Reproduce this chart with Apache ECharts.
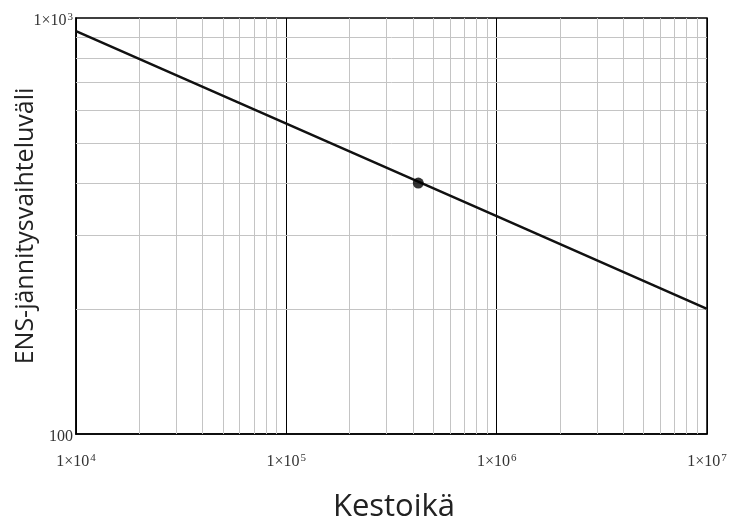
<!DOCTYPE html>
<html>
<head>
<meta charset="utf-8">
<script src="https://cdn.jsdelivr.net/npm/echarts@6/dist/echarts.min.js"></script>
<style>html,body{margin:0;padding:0;background:#fff}#c{width:734px;height:529px}</style>
</head>
<body>
<div id="c"></div>
<script>
var lifeValues = [1e4, 1e5, 1e6, 1e7];
var rangeValues = [930, 557, 334, 200];
var pointLife = [424000];
var pointRange = [401];
var xMinorGrid = [2e4,3e4,4e4,5e4,6e4,7e4,8e4,9e4,2e5,3e5,4e5,5e5,6e5,7e5,8e5,9e5,2e6,3e6,4e6,5e6,6e6,7e6,8e6,9e6];
var yMinorGrid = [200,300,400,500,600,700,800,900];
var xName = 'Kestoikä';
var yName = 'ENS-jännitysvaihteluväli';

var chart = echarts.init(document.getElementById('c'));
function sci(v){
  var e = Math.round(Math.log10(v));
  return '{b|1×10}{s|' + e + '}';
}
var serif = 'Liberation Serif';
var gray = '#c4c4c4';
var minorLines = xMinorGrid.map(function(v){return {xAxis: v};})
  .concat(yMinorGrid.map(function(v){return {yAxis: v};}));
var rich = {
  b: {fontFamily: serif, fontSize: 16, color: '#333', lineHeight: 18},
  s: {fontFamily: serif, fontSize: 11, color: '#333', verticalAlign: 'top', lineHeight: 12, padding: [0,0,12,1]}
};

chart.setOption({
  animation: false,
  grid: {left: 76, right: 27, top: 18, bottom: 95, outerBoundsMode: 'none', containLabel: false,
    show: true, borderColor: '#000', borderWidth: 1.5, backgroundColor: 'transparent'},
  xAxis: {
    type: 'log', logBase: 10, min: 1e4, max: 1e7,
    name: xName, nameLocation: 'middle', nameGap: 58, nameMoveOverlap: false,
    nameTextStyle: {fontFamily: 'Open Sans', fontSize: 31, color: '#222', padding: [0,0,0,5]},
    axisLine: {show: true, lineStyle: {color: '#000', width: 1.5}},
    axisTick: {show: false},
    splitLine: {show: true, lineStyle: {color: '#000', width: 1}},
    minorTick: {show: false}, minorSplitLine: {show: false},
    axisLabel: {
      margin: 19, fontSize: 16, fontFamily: serif, hideOverlap: false,
      formatter: function(v){ return sci(v); },
      rich: rich
    }
  },
  yAxis: {
    type: 'log', logBase: 10, min: 100, max: 1000,
    name: yName, nameLocation: 'middle', nameGap: 38, nameMoveOverlap: false,
    nameTextStyle: {fontFamily: 'Open Sans', fontSize: 25, color: '#222', padding: [0,0,0,0]},
    axisLine: {show: true, lineStyle: {color: '#000', width: 1.5}},
    axisTick: {show: false},
    splitLine: {show: false},
    axisLabel: {
      margin: 3, fontSize: 16, fontFamily: serif, padding: [6,0,0,0],
      formatter: function(v){ return v >= 1000 ? sci(v) : '{b|' + Math.round(v) + '}'; },
      rich: rich
    }
  },
  series: [
    {
      type: 'line', silent: true, z: 1,
      data: [], symbol: 'none',
      markLine: {silent: true, symbol: 'none', label: {show: false},
        lineStyle: {color: gray, width: 1, type: 'solid'}, data: minorLines, animation: false}
    },
    {
      type: 'line', z: 5,
      data: lifeValues.map(function(x,i){return [x, rangeValues[i]];}),
      symbol: 'none', lineStyle: {color: '#111', width: 2.5}
    },
    {
      type: 'scatter', z: 6,
      data: pointLife.map(function(x,i){return [x, pointRange[i]];}),
      symbol: 'circle', symbolSize: 11, itemStyle: {color: '#000'}
    }
  ]
});
</script>
</body>
</html>
